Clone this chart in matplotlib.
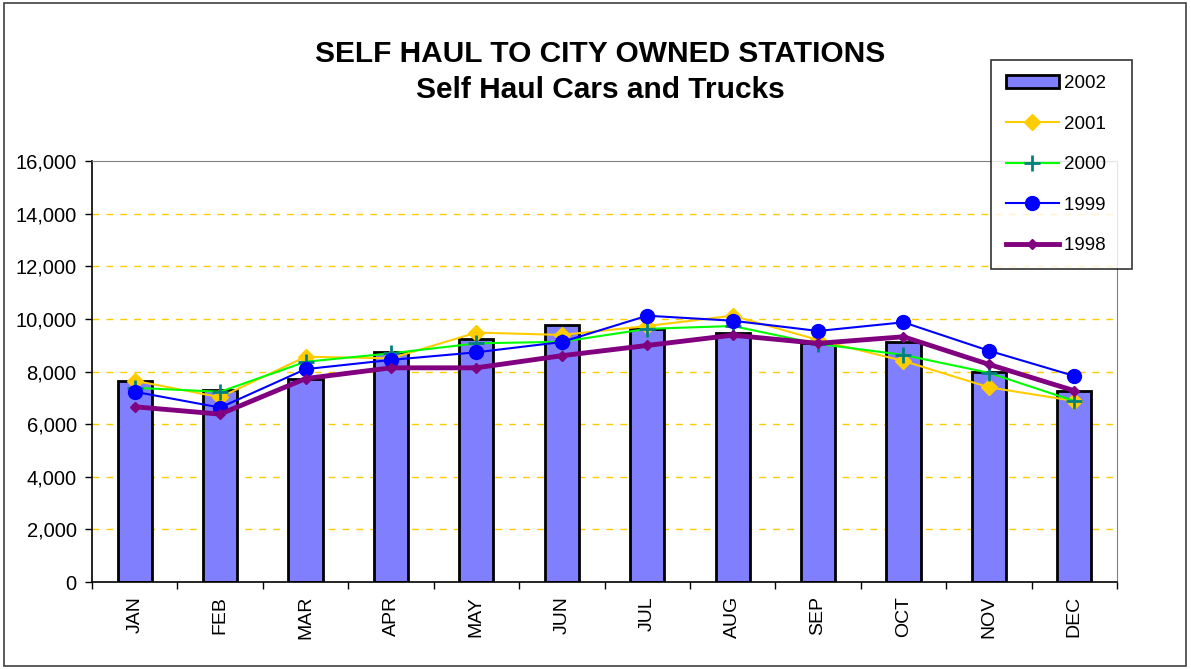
import matplotlib.pyplot as plt
import matplotlib.patches as patches
import numpy as np
from matplotlib.ticker import FuncFormatter

plt.rcParams['font.family'] = ['Liberation Sans', 'DejaVu Sans']

months = ["JAN", "FEB", "MAR", "APR", "MAY", "JUN", "JUL", "AUG", "SEP", "OCT", "NOV", "DEC"]

y2002 = [7650, 7300, 7700, 8730, 9230, 9770, 9600, 9480, 9090, 9110, 7970, 7270]
y2001 = [7650, 7020, 8560, 8500, 9480, 9390, 9730, 10120, 9200, 8400, 7400, 6880]
y2000 = [7380, 7230, 8370, 8690, 9070, 9130, 9620, 9730, 9050, 8630, 7950, 6880]
y1999 = [7230, 6630, 8090, 8440, 8730, 9120, 10120, 9930, 9540, 9870, 8790, 7830]
y1998 = [6660, 6380, 7730, 8140, 8140, 8600, 8990, 9380, 9070, 9320, 8270, 7270]

x = np.arange(len(months))

fig = plt.figure(figsize=(11.91, 6.69), dpi=100)
ax = fig.add_axes([92/1191, 1 - 582/669, (1117 - 92)/1191, (582 - 161)/669])

# outer frame round the whole chart
fig.patches.append(patches.Rectangle((0.003, 0.005), 0.993, 0.99, transform=fig.transFigure,
                                     fill=False, edgecolor='#404040', linewidth=1.2))

bars = ax.bar(x, y2002, width=0.4, color='#8080FF', edgecolor='black', linewidth=2, zorder=2, label='2002  ')
l01, = ax.plot(x, y2001, color='#FFCC00', marker='D', markersize=8, linewidth=1.5, zorder=3, label='2001  ')
l00, = ax.plot(x, y2000, color='#00FF00', marker='+', markersize=12, markeredgewidth=2,
               markeredgecolor='#008080', linewidth=1.5, zorder=4, label='2000  ')
l99, = ax.plot(x, y1999, color='#0000FF', marker='o', markersize=10, linewidth=1.5, zorder=5, label='1999  ')
l98, = ax.plot(x, y1998, color='#800080', marker='D', markersize=5, linewidth=3.5, zorder=6, label='1998  ')

ax.set_ylim(0, 16000)
ax.set_xlim(-0.5, 11.5)
ax.set_yticks(np.arange(0, 16001, 2000))
ax.yaxis.set_major_formatter(FuncFormatter(lambda v, p: f"{int(v):,}"))
for yy in range(2000, 16000, 2000):
    ax.axhline(yy, color='#FFCC00', linestyle=(0, (5, 5)), linewidth=1, zorder=1)

ax.set_xticks(x)
ax.set_xticklabels(months, rotation=90)
ax.set_xticks(np.arange(-0.5, 12, 1), minor=True)
ax.tick_params(axis='x', which='major', length=0, pad=10, labelsize=14)
ax.tick_params(axis='x', which='minor', length=5, width=1, direction='out')
ax.tick_params(axis='y', length=5, width=1, direction='out', labelsize=14.5, pad=6)

ax.spines['top'].set_color('#808080')
ax.spines['right'].set_color('#808080')
ax.spines['left'].set_linewidth(1.2)
ax.spines['bottom'].set_linewidth(1.2)

fig.text(600/1191, 1 - 72/669, "SELF HAUL TO CITY OWNED STATIONS\nSelf Haul Cars and Trucks",
         ha='center', va='center', fontsize=21.5, fontweight='bold', linespacing=1.36)

leg = fig.legend(handles=[bars, l01, l00, l99, l98], loc='upper left',
                 bbox_to_anchor=(991/1191, 1 - 60/669), borderaxespad=0, fontsize=13.5,
                 frameon=True, fancybox=False, edgecolor='black', handlelength=2.8,
                 labelspacing=1.25, borderpad=0.8, handletextpad=0.3)
leg.get_frame().set_linewidth(1.2)
leg.set_zorder(10)

fig.savefig("out.png", dpi=100)
